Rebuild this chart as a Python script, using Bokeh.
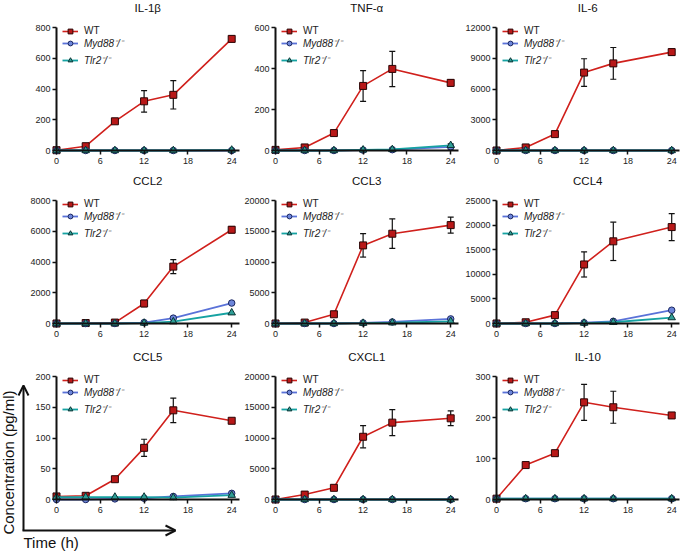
import math
from bokeh.plotting import figure
from bokeh.layouts import column, row
from bokeh.models import (ColumnDataSource, Range1d, LinearAxis, FixedTicker, Whisker,
                          TeeHead, Legend, LegendItem, Label, Arrow, OpenHead)
from bokeh.embed import file_html
from bokeh.resources import INLINE

# ---------------- data ----------------
times = [0, 4, 8, 12, 16, 24]
x_ticks = [0, 6, 12, 18, 24]
strain_labels = ["WT", "Myd88\u207b/\u207b", "Tlr2\u207b/\u207b"]

il1b_wt = [2, 28, 190, 320, 362, 726]
il1b_wt_err = [0, 5, 8, 70, 92, 18]
il1b_myd88 = [0, 0, 0, 0, 0, 0]
il1b_tlr2 = [0, 0, 0, 0, 0, 3]
il1b_ticks = [0, 200, 400, 600, 800]

tnf_wt = [3, 15, 85, 315, 398, 330]
tnf_wt_err = [0, 4, 6, 75, 86, 16]
tnf_myd88 = [0, 0, 0, 2, 4, 18]
tnf_myd88_err = [0, 0, 0, 0, 0, 15]
tnf_tlr2 = [0, 0, 0, 3, 5, 25]
tnf_ticks = [0, 200, 400, 600]

il6_wt = [0, 300, 1600, 7600, 8500, 9600]
il6_wt_err = [0, 60, 150, 1350, 1550, 300]
il6_myd88 = [0, 0, 0, 0, 0, 0]
il6_tlr2 = [0, 0, 0, 0, 0, 0]
il6_ticks = [0, 3000, 6000, 9000, 12000]

ccl2_wt = [0, 30, 60, 1300, 3700, 6100]
ccl2_wt_err = [0, 10, 20, 200, 450, 200]
ccl2_myd88 = [0, 0, 0, 60, 350, 1330]
ccl2_tlr2 = [0, 0, 0, 30, 120, 700]
ccl2_ticks = [0, 2000, 4000, 6000, 8000]

ccl3_wt = [0, 150, 1500, 12700, 14600, 16000]
ccl3_wt_err = [0, 50, 150, 1900, 2400, 1300]
ccl3_myd88 = [0, 0, 0, 100, 250, 750]
ccl3_tlr2 = [0, 0, 0, 50, 120, 350]
ccl3_ticks = [0, 5000, 10000, 15000, 20000]

ccl4_wt = [0, 250, 1700, 12000, 16700, 19600]
ccl4_wt_err = [0, 80, 200, 2550, 3900, 2750]
ccl4_myd88 = [0, 0, 0, 150, 450, 2700]
ccl4_tlr2 = [0, 0, 0, 80, 250, 1200]
ccl4_ticks = [0, 5000, 10000, 15000, 20000, 25000]

ccl5_wt = [5, 6, 33, 84, 145, 128]
ccl5_wt_err = [0, 1, 2, 14, 20, 3]
ccl5_myd88 = [0, 0, 1, 2, 5, 10]
ccl5_tlr2 = [4, 4, 4, 4, 3, 7]
ccl5_ticks = [0, 50, 100, 150, 200]

cxcl1_wt = [0, 800, 1900, 10200, 12500, 13200]
cxcl1_wt_err = [0, 100, 150, 1800, 2100, 1200]
cxcl1_myd88 = [0, 0, 0, 0, 0, 0]
cxcl1_tlr2 = [0, 0, 0, 0, 0, 0]
cxcl1_ticks = [0, 5000, 10000, 15000, 20000]

il10_wt = [2, 84, 113, 237, 225, 205]
il10_wt_err = [0, 3, 4, 44, 39, 5]
il10_myd88 = [2, 2, 2, 2, 2, 2]
il10_tlr2 = [2, 2, 2, 2, 2, 2]
il10_ticks = [0, 100, 200, 300]

zeros = [0, 0, 0, 0, 0, 0]

# ---------------- layout geometry (pixels) ----------------
FONT = "Liberation Sans"
COL_X0 = [56, 275, 496]            # pixel x of t = 0 in each column
COL_BOX = [(0, 241), (241, 461), (461, 681)]
ROW_Y0 = [150, 323, 499]           # pixel y of value 0 in each row
ROW_BOX = [(0, 172), (172, 348), (348, 551)]
PX_PER_H = 7.3
PLOT_H = 123                       # pixels from 0 to the top tick
X_END = 25

styles = [
    dict(line="#d0201c", fill="#b81818", outline="#2b0505", marker="square", size=7, lw=1.6),
    dict(line="#5a72d8", fill="#6d86da", outline="#1c2760", marker="circle", size=6.5, lw=1.8),
    dict(line="#16a2a2", fill="#2f9e96", outline="#0b3434", marker="triangle", size=7.5, lw=1.8),
]


def style_axis(ax):
    ax.axis_line_width = 2
    ax.axis_line_color = "#111111"
    ax.major_tick_line_width = 1.5
    ax.major_tick_line_color = "#111111"
    ax.major_tick_out = 4
    ax.major_tick_in = 0
    ax.minor_tick_out = 0
    ax.minor_tick_in = 0
    ax.major_label_text_font = FONT
    ax.major_label_text_font_size = "9px"
    ax.major_label_text_color = "#222222"


def make_panel(r, c, title, yticks, series):
    bx0, bx1 = COL_BOX[c]
    by0, by1 = ROW_BOX[r]
    xp0 = COL_X0[c]
    yp0 = ROW_Y0[r]
    top = yticks[-1]
    upp = top / PLOT_H
    p = figure(width=bx1 - bx0, height=by1 - by0,
               x_range=Range1d((bx0 - xp0) / PX_PER_H, (bx1 - xp0) / PX_PER_H),
               y_range=Range1d((yp0 - by1) * upp, (yp0 - by0) * upp),
               output_backend="svg", toolbar_location=None,
               x_axis_location=None, y_axis_location=None,
               min_border=0, min_border_left=0, min_border_right=0,
               min_border_top=0, min_border_bottom=0)
    p.grid.visible = False
    p.outline_line_color = None
    p.background_fill_color = "white"
    p.border_fill_color = "white"

    xa = LinearAxis(fixed_location=0, bounds=(0, X_END), ticker=FixedTicker(ticks=x_ticks))
    ya = LinearAxis(fixed_location=0, bounds=(0, top), ticker=FixedTicker(ticks=yticks))
    style_axis(xa)
    style_axis(ya)
    xa.major_label_standoff = 3
    ya.major_label_standoff = 2
    p.add_layout(xa, "below")
    p.add_layout(ya, "left")

    rends = []
    for (vals, errs), st in zip(series, styles):
        src = ColumnDataSource(dict(t=times, v=vals))
        lr = p.line("t", "v", source=src, line_color=st["line"], line_width=st["lw"])
        idx = [i for i, e in enumerate(errs) if e > 0]
        if idx:
            wsrc = ColumnDataSource(dict(
                t=[times[i] for i in idx],
                lo=[vals[i] - errs[i] for i in idx],
                hi=[vals[i] + errs[i] for i in idx]))
            w = Whisker(base="t", lower="lo", upper="hi", source=wsrc,
                        line_color="#111111", line_width=1.2,
                        upper_head=TeeHead(size=6, line_width=1.2, line_color="#111111"),
                        lower_head=TeeHead(size=6, line_width=1.2, line_color="#111111"))
            p.add_layout(w)
        sr = p.scatter("t", "v", source=src, marker=st["marker"], size=st["size"],
                       fill_color=st["fill"], line_color=st["outline"], line_width=1)
        rends.append((lr, sr))

    # legend (pixel positions measured from the frame's bottom-left)
    ytop = yp0 - PLOT_H
    lx = xp0 + 6 - bx0
    common = dict(border_line_color=None, background_fill_alpha=0, padding=0, margin=0,
                  spacing=3, glyph_width=16, glyph_height=12, label_height=12,
                  label_standoff=6, label_text_font=FONT, label_text_font_size="10px",
                  label_text_color="#222222")
    leg1 = Legend(items=[LegendItem(label=strain_labels[0], renderers=list(rends[0]))],
                  location=(lx, by1 - (ytop + 9.7)), **common)
    leg2 = Legend(items=[LegendItem(label=strain_labels[1], renderers=list(rends[1])),
                         LegendItem(label=strain_labels[2], renderers=list(rends[2]))],
                  location=(lx, by1 - (ytop + 39.7)), label_text_font_style="italic", **common)
    p.add_layout(leg1)
    p.add_layout(leg2)

    p.add_layout(Label(x=X_END / 2, y=by1 - (yp0 - 143), x_units="data", y_units="screen",
                       text=title, text_align="center", text_baseline="middle",
                       text_font=FONT, text_font_size="11.5px", text_color="#111111"))
    return p


f1 = make_panel(0, 0, "IL-1\u03b2", il1b_ticks,
                [(il1b_wt, il1b_wt_err), (il1b_myd88, zeros), (il1b_tlr2, zeros)])
f2 = make_panel(0, 1, "TNF-\u03b1", tnf_ticks,
                [(tnf_wt, tnf_wt_err), (tnf_myd88, tnf_myd88_err), (tnf_tlr2, zeros)])
f3 = make_panel(0, 2, "IL-6", il6_ticks,
                [(il6_wt, il6_wt_err), (il6_myd88, zeros), (il6_tlr2, zeros)])
f4 = make_panel(1, 0, "CCL2", ccl2_ticks,
                [(ccl2_wt, ccl2_wt_err), (ccl2_myd88, zeros), (ccl2_tlr2, zeros)])
f5 = make_panel(1, 1, "CCL3", ccl3_ticks,
                [(ccl3_wt, ccl3_wt_err), (ccl3_myd88, zeros), (ccl3_tlr2, zeros)])
f6 = make_panel(1, 2, "CCL4", ccl4_ticks,
                [(ccl4_wt, ccl4_wt_err), (ccl4_myd88, zeros), (ccl4_tlr2, zeros)])
f7 = make_panel(2, 0, "CCL5", ccl5_ticks,
                [(ccl5_wt, ccl5_wt_err), (ccl5_myd88, zeros), (ccl5_tlr2, zeros)])
f8 = make_panel(2, 1, "CXCL1", cxcl1_ticks,
                [(cxcl1_wt, cxcl1_wt_err), (cxcl1_myd88, zeros), (cxcl1_tlr2, zeros)])
f9 = make_panel(2, 2, "IL-10", il10_ticks,
                [(il10_wt, il10_wt_err), (il10_myd88, zeros), (il10_tlr2, zeros)])

# shared axis arrows and labels, drawn inside the CCL5 panel (screen px from its bottom-left)
B = ROW_BOX[2][1]
f7.add_layout(Arrow(x_start=23, y_start=B - 530, x_end=23, y_end=B - 385,
                    start_units="screen", end_units="screen", start=None,
                    end=OpenHead(size=10, line_width=2, line_color="#111111"),
                    line_width=2, line_color="#111111"))
f7.add_layout(Arrow(x_start=22, y_start=B - 530, x_end=175, y_end=B - 530,
                    start_units="screen", end_units="screen", start=None,
                    end=OpenHead(size=10, line_width=2, line_color="#111111"),
                    line_width=2, line_color="#111111"))
f7.add_layout(Label(x=8, y=B - 462, x_units="screen", y_units="screen",
                    text="Concentration (pg/ml)", angle=math.pi / 2,
                    text_align="center", text_baseline="middle",
                    text_font=FONT, text_font_size="15px", text_color="#111111"))
f7.add_layout(Label(x=23, y=B - 542, x_units="screen", y_units="screen",
                    text="Time (h)", text_align="left", text_baseline="middle",
                    text_font=FONT, text_font_size="15px", text_color="#111111"))

layout = column(row(f1, f2, f3), row(f4, f5, f6), row(f7, f8, f9))

with open("out.html", "w") as fh:
    fh.write(file_html(layout, INLINE))
